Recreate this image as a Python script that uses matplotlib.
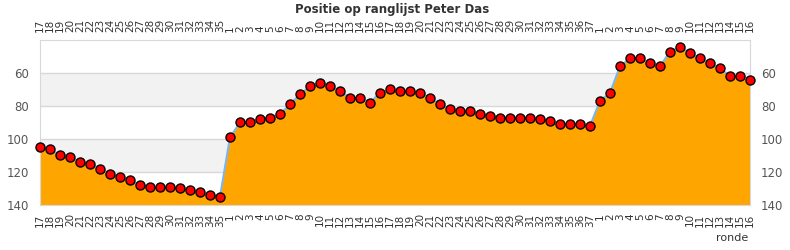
import numpy as np
import matplotlib
matplotlib.use("Agg")
import matplotlib.pyplot as plt

# round labels (three seasons)
rounds = ([str(r) for r in range(17, 36)] + [str(r) for r in range(1, 38)]
          + [str(r) for r in range(1, 17)])

pos_season1 = [105, 106, 110, 111, 114, 115, 118, 121, 123, 125, 128, 129, 129,
               129, 130, 131, 132, 134, 135]
pos_season2 = [99, 90, 90, 88, 87, 85, 79, 73, 68, 66, 68, 71, 75, 75, 78, 72, 70,
               71, 71, 72, 75, 79, 82, 83, 83, 85, 86, 87, 87, 87, 87, 88, 89, 91,
               91, 91, 92]
pos_season3 = [77, 72, 56, 51, 51, 54, 56, 47, 44, 48, 51, 54, 57, 62, 62, 64]

positions = pos_season1 + pos_season2 + pos_season3
x = np.arange(len(positions))

fig = plt.figure(figsize=(7.9, 2.5), dpi=100)
ax = fig.add_axes([40 / 790, 1 - 205 / 250, 710 / 790, 165 / 250])

ymin, ymax = 40, 140
# alternating bands
for lo, hi in [(60, 80), (100, 120)]:
    ax.axhspan(lo, hi, color="#f2f2f2", zorder=0, lw=0)
for yv in [60, 80, 100, 120]:
    ax.axhline(yv, color="#d8d8d8", lw=1, zorder=1)

ax.fill_between(x, positions, ymax, color="#ffa500", lw=0, zorder=2)
ax.plot(x, positions, "-", color="#7cb5ec", lw=1.5, zorder=3)
ax.plot(x, positions, "o", color="red", markeredgecolor="black",
        markeredgewidth=1, markersize=6.5, zorder=4, clip_on=False)

ax.set_xlim(0, len(positions) - 1)
ax.set_ylim(ymax, ymin)

ax.set_xticks(x)
ax.set_xticklabels(rounds, rotation=90, fontsize=7.5, color="#333333")
ax.tick_params(axis="x", length=0, pad=6, top=True, labeltop=True)
ax.set_yticks([60, 80, 100, 120, 140])
ax.tick_params(axis="y", length=0, labelsize=8.5, labelcolor="#555555",
               left=True, right=True, labelright=True, pad=8)

for s in ax.spines.values():
    s.set_color("#d8d8d8")

fig.text(392 / 790, 1 - 10 / 250, "Positie op ranglijst Peter Das", ha="center",
         va="center", fontsize=8.5, fontweight="bold", color="#333333")
fig.text(748 / 790, 1 - 238 / 250, "ronde", ha="right", va="center",
         fontsize=8, color="#333333")

fig.savefig("out.png", dpi=100)
